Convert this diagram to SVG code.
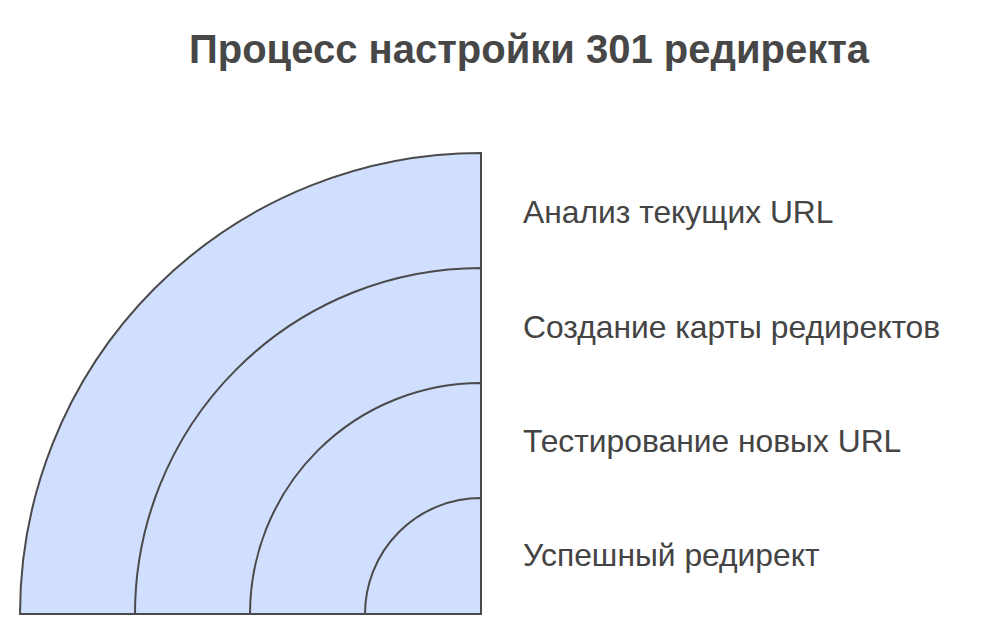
<svg xmlns="http://www.w3.org/2000/svg" width="981" height="635" viewBox="0 0 981 635">
<style>
.band{fill:#cfdffd;stroke:#4a4a4a;stroke-width:2;stroke-linejoin:miter}
.lbl{font-family:"Liberation Sans",Arial,sans-serif;font-size:31.8px;fill:#444}
.title{font-family:"Liberation Sans",Arial,sans-serif;font-size:40px;font-weight:bold;fill:#474747}
</style>
<rect width="981" height="635" fill="#ffffff"/>
<text class="title" x="529" y="63" text-anchor="middle">Процесс настройки 301 редиректа</text>
<g id="node1"><path class="band" d="M20,614 A461,461 0 0 1 481,153 L481,614 Z"/><text class="lbl" x="523" y="223">Анализ текущих URL</text></g>
<g id="node2"><path class="band" d="M135,614 A346,346 0 0 1 481,268 L481,614 Z"/><text class="lbl" x="523" y="338">Создание карты редиректов</text></g>
<g id="node3"><path class="band" d="M250,614 A231,231 0 0 1 481,383 L481,614 Z"/><text class="lbl" x="523" y="452">Тестирование новых URL</text></g>
<g id="node4"><path class="band" d="M365,614 A116,116 0 0 1 481,498 L481,614 Z"/><text class="lbl" x="523" y="566">Успешный редирект</text></g>
<g id="connectors"></g>
</svg>
